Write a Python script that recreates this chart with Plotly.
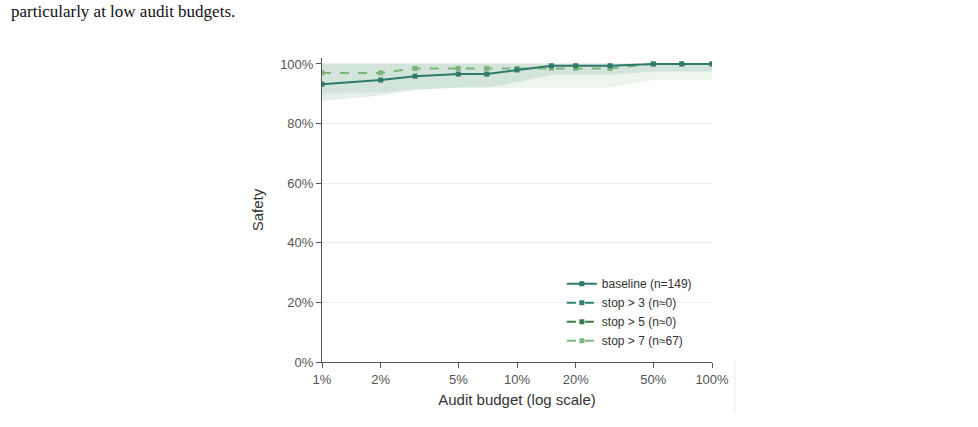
import plotly.graph_objects as go

budgets = [1, 2, 3, 5, 7, 10, 15, 20, 30, 50, 70, 100]
baseline = [93.2, 94.6, 95.9, 96.6, 96.6, 98.0, 99.4, 99.4, 99.4, 100, 100, 100]
baseline_lo = [87.6, 89.4, 91.3, 92.1, 92.1, 93.9, 96.4, 96.4, 96.4, 97.5, 97.5, 97.5]
baseline_hi = [100] * 12
stop7 = [97.0, 97.0, 98.5, 98.5, 98.5, 98.5, 98.6, 98.5, 98.5, 100, 100, 100]
stop7_lo = [90.0, 90.5, 91.5, 92.0, 92.0, 92.0, 92.0, 92.0, 92.0, 94.7, 94.7, 94.7]
stop7_hi = [100] * 12

names = ["baseline (n=149)", "stop > 3 (n≈0)", "stop > 5 (n≈0)", "stop > 7 (n≈67)"]
x_ticks = [1, 2, 5, 10, 20, 50, 100]
x_labels = ["1%", "2%", "5%", "10%", "20%", "50%", "100%"]
y_ticks = [0, 20, 40, 60, 80, 100]
y_labels = ["0%", "20%", "40%", "60%", "80%", "100%"]

W, H = 978, 427
L, R, T, B = 322, 266, 58, 65
pw, ph = W - L - R, H - T - B

fig = go.Figure()

def band(lo, hi, color):
    fig.add_trace(go.Scatter(x=budgets + budgets[::-1], y=hi + lo[::-1], fill="toself",
                             fillcolor=color, line=dict(width=0), mode="lines",
                             hoverinfo="skip", showlegend=False))

band(stop7_lo, stop7_hi, "rgba(127,183,126,0.15)")
band(baseline_lo, baseline_hi, "rgba(47,125,105,0.13)")

fig.add_trace(go.Scatter(x=budgets, y=baseline, name=names[0], mode="lines+markers",
                         line=dict(color="#2f7a6d", width=2),
                         marker=dict(symbol="square", size=5, color="#2f7a6d")))
fig.add_trace(go.Scatter(x=[None], y=[None], name=names[1], mode="lines+markers",
                         line=dict(color="#2f7f72", width=2, dash="dash"),
                         marker=dict(symbol="square", size=5, color="#2f7f72")))
fig.add_trace(go.Scatter(x=[None], y=[None], name=names[2], mode="lines+markers",
                         line=dict(color="#3c7a4c", width=2, dash="dash"),
                         marker=dict(symbol="square", size=5, color="#3c7a4c")))
fig.add_trace(go.Scatter(x=budgets, y=stop7, name=names[3], mode="lines+markers",
                         line=dict(color="#7db57c", width=2, dash="dash"),
                         marker=dict(symbol="square", size=5, color="#7db57c")))

# draw baseline on top while keeping legend order
fig.data = (fig.data[0], fig.data[1], fig.data[5], fig.data[3], fig.data[4], fig.data[2])

fig.update_layout(
    width=W, height=H,
    margin=dict(l=L, r=R, t=T, b=B),
    paper_bgcolor="white", plot_bgcolor="white",
    font=dict(family="Liberation Sans, Arial, sans-serif", size=13, color="#333"),
    legend=dict(x=0.615, xanchor="left", y=0.305, yanchor="top", bgcolor="rgba(0,0,0,0)",
                font=dict(size=12, color="#333"), tracegroupgap=0, itemwidth=30),
)
order = {names[0]: 1, names[1]: 2, names[2]: 3, names[3]: 4}
for tr in fig.data:
    if tr.name in order:
        tr.legendrank = order[tr.name]

fig.update_xaxes(type="log", range=[0, 2], tickvals=x_ticks, ticktext=x_labels,
                 showgrid=False, showline=True, linecolor="#555", linewidth=1,
                 ticks="outside", ticklen=5, tickcolor="#555",
                 tickfont=dict(size=13, color="#555"),
                 title=dict(text="Audit budget (log scale)", font=dict(size=15, color="#333"), standoff=8),
                 zeroline=False)
fig.update_yaxes(range=[0, 102], tickvals=y_ticks, ticktext=y_labels,
                 showgrid=True, gridcolor="#eeeeee", showline=True, linecolor="#555", linewidth=1,
                 ticks="outside", ticklen=5, tickcolor="#555",
                 tickfont=dict(size=13, color="#555"),
                 title=dict(text="Safety", font=dict(size=15, color="#333"), standoff=12),
                 zeroline=False)

fig.add_annotation(text="particularly at low audit budgets.", xref="paper", yref="paper",
                   x=(9 - L) / pw, y=(H - B - 12) / ph, xanchor="left", yanchor="middle",
                   showarrow=False, font=dict(family="Liberation Serif, Times New Roman, serif",
                                              size=17, color="#111"))
fig.add_shape(type="line", xref="paper", yref="paper",
              x0=(735 - L) / pw, x1=(735 - L) / pw, y0=(H - B - 412) / ph, y1=(H - B - 360) / ph,
              line=dict(color="#eeeeee", width=1))

fig.write_html("out.html")
